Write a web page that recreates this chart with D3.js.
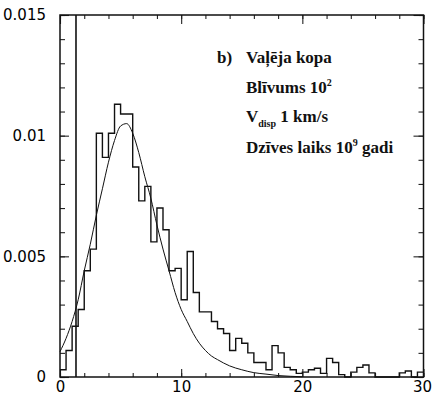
<!DOCTYPE html>
<html>
<head>
<meta charset="utf-8">
<script src="https://cdn.jsdelivr.net/npm/d3@7"></script>
<style>
  body { margin: 0; background: #fff; }
  svg { display: block; }
  .tick text { font-family: "DejaVu Sans", sans-serif; font-size: 15px; fill: #000; }
  .lbl { font-family: "Liberation Serif", serif; font-weight: bold; font-size: 17px; fill: #111; }
</style>
</head>
<body>
<script>
// histogram, bins of 0.5 from 0 to 30
var binWidth = 0.5;
var hist = [
  0.0003, 0.0011, 0.0021, 0.0028, 0.0044, 0.0053,
  0.0101, 0.0091, 0.0101, 0.0113, 0.0109, 0.0109,
  0.0087, 0.0073, 0.0079, 0.0056, 0.0070, 0.0061,
  0.0044, 0.0045, 0.0032, 0.0052, 0.0035, 0.0027,
  0.0027, 0.0023, 0.0020, 0.0018, 0.0011, 0.0016,
  0.0014, 0.0010, 0.0006, 0.0006, 0.0003, 0.0013,
  0.0010, 0.0004, 0.0003, 0.00015, 0.0002, 0.0003,
  0.00036, 0.00015, 0.00077, 0.0006, 0.0001, 0,
  0.0002, 0.0004, 0.0005, 0.00017, 0, 0,
  0, 0, 0.00017, 0.00025, 0, 0.0002
];

// smooth fit curve
var curveX = [0, 0.5, 1, 1.5, 2, 2.5, 3, 3.5, 4, 4.5, 5, 5.5, 6, 6.5, 7, 7.5, 8, 8.5, 9, 9.5,
  10, 10.5, 11, 11.5, 12, 12.5, 13, 13.5, 14, 15, 16, 17, 18, 19, 20];
var curveY = [0.00105, 0.0016, 0.0023, 0.0032, 0.0044, 0.0055, 0.0067, 0.0078, 0.0089, 0.0098,
  0.0104, 0.0105, 0.0101, 0.0093, 0.0083, 0.0074, 0.0063, 0.0053, 0.0044, 0.0035,
  0.0028, 0.0023, 0.0018, 0.0014, 0.0011, 0.00087, 0.00072, 0.00058, 0.00046, 0.0003,
  0.00018, 0.00012, 0.00006, 0.00003, 0.00001];

// the single tall spike
var spikeX = 1.32;
var spikeTop = 0.015;

var xTicks = [0, 10, 20, 30];
var yTicks = [0, 0.005, 0.01, 0.015];
var yTickLabels = ["0", "0.005", "0.01", "0.015"];

var svg = d3.select("body").append("svg")
  .attr("width", 432)
  .attr("height", 397);

var x = d3.scaleLinear().domain([0, 30]).range([60, 423.5]);
var y = d3.scaleLinear().domain([0, 0.015]).range([377, 15]);

var minorX = d3.range(0, 30.01, 2);
var minorY = d3.range(0, 0.01501, 0.001);

// minor ticks, all four sides
svg.append("g").attr("transform", "translate(0,377)")
  .call(d3.axisBottom(x).tickValues(minorX).tickSize(-4).tickFormat(""));
svg.append("g").attr("transform", "translate(0,15)")
  .call(d3.axisTop(x).tickValues(minorX).tickSize(-4).tickFormat(""));
svg.append("g").attr("transform", "translate(60,0)")
  .call(d3.axisLeft(y).tickValues(minorY).tickSize(-5).tickFormat(""));
svg.append("g").attr("transform", "translate(423.5,0)")
  .call(d3.axisRight(y).tickValues(minorY).tickSize(-5).tickFormat(""));

// major ticks
var xAxisG = svg.append("g").attr("transform", "translate(0,377)")
  .call(d3.axisBottom(x).tickValues(xTicks).tickSize(-8).tickPadding(4).tickFormat(d3.format("d")));
// last label sits at the window edge
xAxisG.selectAll(".tick text").filter(function(d) { return d === 30; })
  .attr("text-anchor", "end").attr("dx", 8);
svg.append("g").attr("transform", "translate(0,15)")
  .call(d3.axisTop(x).tickValues(xTicks).tickSize(-9).tickFormat(""));
svg.append("g").attr("transform", "translate(60,0)")
  .call(d3.axisLeft(y).tickValues(yTicks).tickSize(-9).tickPadding(14)
    .tickFormat(function(d, i) { return yTickLabels[i]; }));
svg.append("g").attr("transform", "translate(423.5,0)")
  .call(d3.axisRight(y).tickValues(yTicks).tickSize(-10).tickFormat(""));

svg.selectAll(".domain").remove();
svg.selectAll(".tick line").attr("stroke", "#222").attr("stroke-width", 1.1);

// frame
svg.append("rect")
  .attr("x", x(0)).attr("y", y(0.015))
  .attr("width", x(30) - x(0)).attr("height", y(0) - y(0.015))
  .attr("fill", "none").attr("stroke", "#111").attr("stroke-width", 1.5);

// histogram steps
var steps = hist.map(function(v, i) { return [i * binWidth, v]; });
steps.push([hist.length * binWidth, hist[hist.length - 1]]);
svg.append("path")
  .datum(steps)
  .attr("fill", "none")
  .attr("stroke", "#111")
  .attr("stroke-width", 1.4)
  .attr("d", d3.line()
    .x(function(d) { return x(d[0]); })
    .y(function(d) { return y(d[1]); })
    .curve(d3.curveStepAfter));

// fit curve
svg.append("path")
  .datum(d3.zip(curveX, curveY))
  .attr("fill", "none")
  .attr("stroke", "#111")
  .attr("stroke-width", 1)
  .attr("d", d3.line()
    .x(function(d) { return x(d[0]); })
    .y(function(d) { return y(d[1]); })
    .curve(d3.curveMonotoneX));

// spike
svg.append("line")
  .attr("x1", x(spikeX)).attr("x2", x(spikeX))
  .attr("y1", y(0)).attr("y2", y(spikeTop))
  .attr("stroke", "#111").attr("stroke-width", 1.6);

// labels
var tx = 246;
svg.append("text").attr("class", "lbl").attr("x", 217).attr("y", 63).text("b)");
svg.append("text").attr("class", "lbl").attr("x", tx).attr("y", 63).text("Vaļēja kopa");

var t2 = svg.append("text").attr("class", "lbl").attr("x", tx).attr("y", 93);
t2.append("tspan").text("Blīvums 10");
t2.append("tspan").attr("dy", -7).style("font-size", "10px").text("2");

var t3 = svg.append("text").attr("class", "lbl").attr("x", tx).attr("y", 122);
t3.append("tspan").text("V");
t3.append("tspan").attr("dy", 5).style("font-size", "10px").text("disp");
t3.append("tspan").attr("dy", -5).text(" 1 km/s");

var t4 = svg.append("text").attr("class", "lbl").attr("x", tx).attr("y", 153);
t4.append("tspan").text("Dzīves laiks 10");
t4.append("tspan").attr("dy", -7).style("font-size", "10px").text("9");
t4.append("tspan").attr("dy", 7).text(" gadi");
</script>
</body>
</html>
